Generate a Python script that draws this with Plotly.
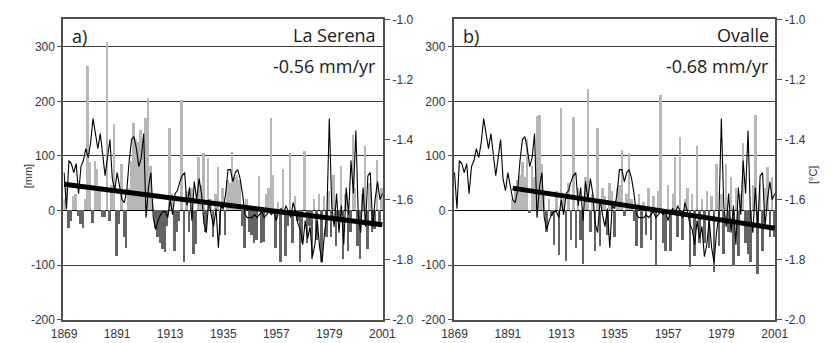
import plotly.graph_objects as go

# Annual precipitation anomalies [mm] and a temperature index [°C], 1869-2001
years = list(range(1869, 2002))

precip_la_serena = [
    20, 40, -32, -20, 26, 30, -10, -26, -32, 20,          # 1869-1878
    263, 88, -23, 90, 75, 40, -12, -12, 308, -20,         # 1879-1888
    45, 158, -85, -26, 85, -50, -70, 40, 90, 160,         # 1889-1898
    130, 125, 146, 120, 168, 205, 80, 10, -32, -50,       # 1899-1908
    -60, -72, -76, -30, 150, 30, -75, -40, -20, 202,      # 1909-1918
    -95, 35, -40, 40, -81, -63, 97, 45, 104, -40,         # 1919-1928
    96, 20, -50, 30, 78, -45, 40, -45, 55, 50,            # 1929-1938
    107, 60, 65, 55, -30, -70, 20, -40, -45, -60,         # 1939-1948
    -55, 62, -60, -58, 30, 40, 168, 65, -70, 15,          # 1949-1958
    -95, 75, -85, -30, 105, -60, 25, -20, -95, -60,       # 1959-1968
    108, -60, -30, -90, 20, -55, 30, -95, 25, -50,        # 1969-1978
    35, -50, 65, -65, -20, 80, -90, 30, -75, -40,         # 1979-1988
    138, 40, -65, -90, 30, 118, -72, 50, -40, -35,        # 1989-1998
    91, -30, 40,                                          # 1999-2001
]

precip_ovalle = [None] * 24 + [
    20, 40, 55, 64, 88, 60, 131,                          # 1893-1899
    -5, 80, 60, 172, 175, 85, 30, -40, 20, -10,           # 1900-1909
    -64, 35, -83, 187, 20, -93, 50, -55, 171, -70,        # 1910-1919
    40, -55, -98, 60, 221, -40, 30, -75, 150, -65,        # 1920-1929
    40, 25, -45, 50, 35, -50, 40, 45, 110, -10,           # 1930-1939
    30, 105, 20, -20, -65, 30, -70, 15, -45, 40,          # 1940-1949
    -55, 25, -103, 35, 210, -60, -75, 45, -75, 30,        # 1950-1959
    97, -50, 134, -55, 20, 40, -105, 30, -85, 117,        # 1960-1969
    -60, 20, -60, 35, -70, 25, -114, 85, -65, 30,         # 1970-1979
    -80, 85, -40, 61, -102, 40, -85, 30, 122, -60,        # 1980-1989
    -80, -95, 45, 175, -117, 50, -75, 40, 79, -50,        # 1990-1999
    60, -50,                                              # 2000-2001
]

temp_index = [
    -1.51, -1.63, -1.47, -1.48, -1.51, -1.48, -1.58, -1.49, -1.47, -1.43,  # 1869-1878
    -1.46, -1.41, -1.33, -1.38, -1.43, -1.38, -1.46, -1.52, -1.46, -1.40,  # 1879-1888
    -1.53, -1.57, -1.51, -1.56, -1.60, -1.61, -1.57, -1.47, -1.40, -1.39,  # 1889-1898
    -1.43, -1.49, -1.46, -1.38, -1.66, -1.56, -1.51, -1.66, -1.70, -1.67,  # 1899-1908
    -1.65, -1.64, -1.64, -1.66, -1.60, -1.65, -1.58, -1.57, -1.54, -1.52,  # 1909-1918
    -1.51, -1.62, -1.56, -1.67, -1.54, -1.60, -1.53, -1.58, -1.68, -1.71,  # 1919-1928
    -1.60, -1.65, -1.69, -1.63, -1.76, -1.62, -1.63, -1.58, -1.50, -1.50,  # 1929-1938
    -1.54, -1.51, -1.50, -1.53, -1.58, -1.65, -1.66, -1.66, -1.66, -1.65,  # 1939-1948
    -1.66, -1.65, -1.64, -1.66, -1.65, -1.64, -1.65, -1.64, -1.67, -1.64,  # 1949-1958
    -1.63, -1.65, -1.62, -1.64, -1.66, -1.61, -1.64, -1.68, -1.70, -1.75,  # 1959-1968
    -1.67, -1.73, -1.69, -1.79, -1.75, -1.67, -1.76, -1.81, -1.71, -1.65,  # 1969-1978
    -1.33, -1.62, -1.69, -1.58, -1.71, -1.62, -1.75, -1.56, -1.65, -1.47,  # 1979-1988
    -1.58, -1.37, -1.65, -1.71, -1.56, -1.69, -1.52, -1.51, -1.69, -1.60,  # 1989-1998
    -1.54, -1.60, -1.58,                                                    # 1999-2001
]

# Linear trends: value at the first year and slope in mm/yr
trend_la_serena = {"start": 1869, "end": 2001, "intercept": 48, "slope": -0.56}
trend_ovalle = {"start": 1893, "end": 2001, "intercept": 41, "slope": -0.68}

panel_letters = ["a)", "b)"]
station_names = ["La Serena", "Ovalle"]
trend_labels = ["-0.56 mm/yr", "-0.68 mm/yr"]

mm_ticks = [-200, -100, 0, 100, 200, 300]
mm_ticktext = ["-200", "-100", "0", "100", "200", "300"]
degc_ticks = [-2.0, -1.8, -1.6, -1.4, -1.2, -1.0]
degc_ticktext = ["-2.0", "-1.8", "-1.6", "-1.4", "-1.2", "-1.0"]
year_ticks = [1869, 1891, 1913, 1935, 1957, 1979, 2001]

assert len(precip_la_serena) == len(years)
assert len(precip_ovalle) == len(years)
assert len(temp_index) == len(years)

LIGHT = "#b7b7b7"
DARK = "#646464"
FRAME = "#505050"
TICKFONT = dict(family="Liberation Sans, Arial, sans-serif", size=12, color="#333333")
TEXTFONT = dict(family="Open Sans, sans-serif", size=18, color="#1a1a1a")
LABELFONT = dict(family="Liberation Sans, Arial, sans-serif", size=11, color="#333333")

W, H = 833, 343
plot_boxes = [(52, 382), (455, 787)]
y_top, y_bottom = 13, 326
ydom = [1 - y_bottom / H, 1 - y_top / H]

fig = go.Figure()
layout = dict(
    width=W, height=H,
    margin=dict(l=0, r=0, t=0, b=0),
    paper_bgcolor="white", plot_bgcolor="white",
    showlegend=False, bargap=0,
    annotations=[],
)

series = [precip_la_serena, precip_ovalle]
trends = [trend_la_serena, trend_ovalle]

for i in range(2):
    xa = "x" if i == 0 else "x2"
    ya_mm = "y" if i == 0 else "y4"
    ya_c = "y2" if i == 0 else "y5"
    ya_top = "y3" if i == 0 else "y6"
    xkey = "xaxis" if i == 0 else "xaxis2"
    mmkey = "yaxis" if i == 0 else "yaxis4"
    ckey = "yaxis2" if i == 0 else "yaxis5"
    topkey = "yaxis3" if i == 0 else "yaxis6"

    vals = series[i]
    # positive anomalies light grey, negative dark grey (missing years get no bar)
    colors = [LIGHT if (v is None or v >= 0) else DARK for v in vals]
    fig.add_trace(go.Bar(x=years, y=vals, marker=dict(color=colors, line=dict(width=0)),
                         width=0.82, xaxis=xa, yaxis=ya_mm, hoverinfo="x+y"))

    fig.add_trace(go.Scatter(x=years, y=temp_index, mode="lines",
                             line=dict(color="black", width=1.1),
                             xaxis=xa, yaxis=ya_c))

    t = trends[i]
    tx = [t["start"], t["end"]]
    ty = [t["intercept"] + t["slope"] * (yr - t["start"]) for yr in tx]
    fig.add_trace(go.Scatter(x=tx, y=ty, mode="lines",
                             line=dict(color="black", width=5),
                             xaxis=xa, yaxis=ya_top))

    x0, x1 = plot_boxes[i]
    xdom = [x0 / W, x1 / W]

    layout[xkey] = dict(
        domain=xdom, range=[1868.7, 2001.3], anchor=ya_mm,
        tickvals=year_ticks, ticktext=[str(v) for v in year_ticks],
        ticks="", showgrid=False, zeroline=False,
        showline=True, mirror=True, linecolor=FRAME, linewidth=2,
        tickfont=TICKFONT, ticklabelstandoff=2,
    )
    layout[mmkey] = dict(
        domain=ydom, range=[-200, 350], anchor=xa,
        tickvals=mm_ticks, ticktext=mm_ticktext,
        ticks="outside", ticklen=4, tickcolor=FRAME, tickwidth=1,
        showgrid=True, gridcolor="#3c3c3c", gridwidth=1.2,
        zeroline=True, zerolinecolor="black", zerolinewidth=1.3,
        showline=True, mirror=True, linecolor=FRAME, linewidth=2,
        tickfont=TICKFONT, ticklabelstandoff=0,
    )
    layout[ckey] = dict(
        range=[-2.0, -1.0], overlaying=ya_mm, anchor=xa, side="right",
        tickvals=degc_ticks, ticktext=degc_ticktext,
        ticks="outside", ticklen=6, tickcolor=FRAME, tickwidth=1,
        showgrid=False, zeroline=False, showline=False,
        tickfont=TICKFONT,
    )
    layout[topkey] = dict(
        range=[-200, 350], overlaying=ya_mm, anchor=xa,
        visible=False, showgrid=False, zeroline=False,
    )

    layout["annotations"] += [
        dict(text=panel_letters[i], xref="paper", yref="paper",
             x=(x0 + 7) / W, y=1 - 30 / H, xanchor="left", yanchor="middle",
             showarrow=False, font=TEXTFONT),
        dict(text=station_names[i], xref="paper", yref="paper",
             x=(x1 - 5) / W, y=1 - 29 / H, xanchor="right", yanchor="middle",
             showarrow=False, font=TEXTFONT),
        dict(text=trend_labels[i], xref="paper", yref="paper",
             x=(x1 - 5) / W, y=1 - 62 / H, xanchor="right", yanchor="middle",
             showarrow=False, font=TEXTFONT),
    ]

layout["annotations"] += [
    dict(text="[mm]", xref="paper", yref="paper", x=15 / W, y=1 - 177 / H,
         textangle=-90, xanchor="center", yanchor="middle", showarrow=False,
         font=LABELFONT),
    dict(text="[°C]", xref="paper", yref="paper", x=826 / W, y=1 - 175 / H,
         textangle=-90, xanchor="center", yanchor="middle", showarrow=False,
         font=LABELFONT),
]

fig.update_layout(**layout)
fig.write_html("out.html")
